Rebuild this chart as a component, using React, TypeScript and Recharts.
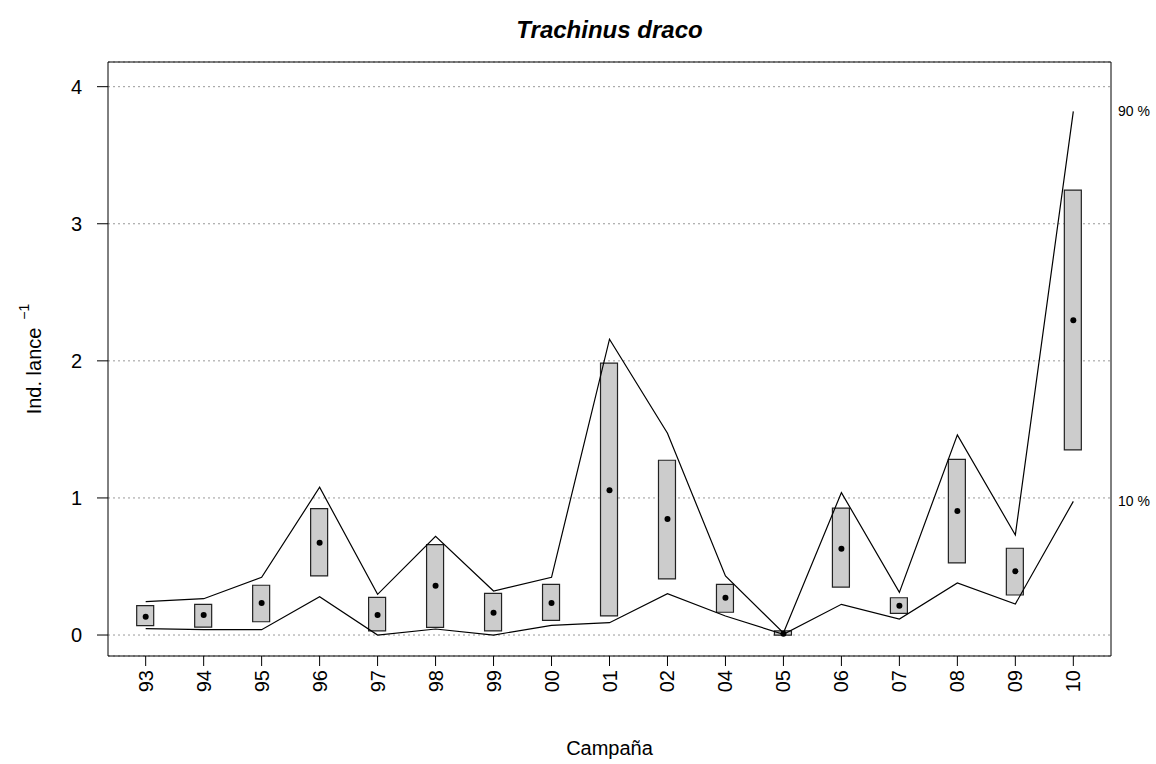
import React from 'react';
import {
  ComposedChart,
  Bar,
  Line,
  XAxis,
  YAxis,
  CartesianGrid,
  ReferenceArea,
} from 'recharts';

const FONT = '"Liberation Sans", Arial, Helvetica, sans-serif';

// campañas
const campanas = ['93', '94', '95', '96', '97', '98', '99', '00', '01', '02', '04', '05', '06', '07', '08', '09', '10'];

// box limits (low / high), median point, 10 % and 90 % lines
const boxLo = [0.068, 0.058, 0.097, 0.431, 0.031, 0.056, 0.031, 0.107, 0.139, 0.409, 0.166, 0.0, 0.35, 0.158, 0.526, 0.292, 1.35];
const boxHi = [0.214, 0.224, 0.363, 0.922, 0.275, 0.66, 0.304, 0.37, 1.983, 1.275, 0.37, 0.031, 0.925, 0.272, 1.282, 0.633, 3.246];
const med = [0.133, 0.146, 0.234, 0.674, 0.146, 0.36, 0.163, 0.234, 1.056, 0.847, 0.272, 0.01, 0.63, 0.214, 0.905, 0.465, 2.297];
const p90 = [0.243, 0.265, 0.421, 1.078, 0.297, 0.72, 0.321, 0.421, 2.158, 1.472, 0.431, 0.015, 1.039, 0.311, 1.46, 0.73, 3.82];
const p10 = [0.046, 0.039, 0.039, 0.28, 0.0, 0.044, 0.0, 0.071, 0.09, 0.302, 0.139, 0.005, 0.224, 0.117, 0.38, 0.226, 0.975];

const yTicks = [0, 1, 2, 3, 4];
const xTicks = campanas.map((_, i) => i + 1);

const data = campanas.map((c, i) => ({
  idx: i + 1,
  camp: c,
  box: [boxLo[i], boxHi[i]],
  med: med[i],
  p90: p90[i],
  p10: p10[i],
}));

const last = campanas.length - 1;
const X_DOMAIN: [number, number] = [0.35, 17.65];
const Y_DOMAIN: [number, number] = [-0.153, 4.18];

function XTick({ x, y, payload }: any) {
  return (
    <text
      x={x}
      y={y}
      transform={`rotate(-90 ${x} ${y})`}
      textAnchor="end"
      dominantBaseline="central"
      fontSize={20}
      fontFamily={FONT}
      fill="#000"
    >
      {campanas[payload.value - 1]}
    </text>
  );
}

function YLabel({ viewBox }: any) {
  const cx = viewBox.x - 14;
  const cy = viewBox.y + viewBox.height / 2;
  return (
    <text
      x={cx}
      y={cy}
      transform={`rotate(-90 ${cx} ${cy})`}
      textAnchor="middle"
      dominantBaseline="central"
      fontSize={20}
      fontFamily={FONT}
      fill="#000"
    >
      Ind. lance
      <tspan dx={8} dy={-10} fontSize={14}>
        −1
      </tspan>
    </text>
  );
}

function XLabel({ viewBox }: any) {
  return (
    <text
      x={viewBox.x + viewBox.width / 2}
      y={viewBox.y + 92}
      textAnchor="middle"
      dominantBaseline="central"
      fontSize={20}
      fontFamily={FONT}
      fill="#000"
    >
      Campaña
    </text>
  );
}

export default function App() {
  return (
    <div style={{ position: 'absolute', left: 0, top: 0, width: 1156, height: 764, background: '#fff' }}>
      <div
        style={{
          position: 'absolute',
          left: 108,
          top: 17,
          width: 1003,
          textAlign: 'center',
          fontFamily: FONT,
          fontSize: 24,
          lineHeight: '26px',
          fontWeight: 'bold',
          fontStyle: 'italic',
        }}
      >
        Trachinus draco
      </div>
      <ComposedChart
        width={1156}
        height={764}
        data={data}
        margin={{ top: 62, right: 0, bottom: 48, left: 48 }}
      >
        <CartesianGrid
          yAxisId="l"
          horizontal
          vertical={false}
          stroke="#999"
          strokeDasharray="2 3"
        />
        <XAxis
          dataKey="idx"
          type="number"
          domain={X_DOMAIN}
          allowDataOverflow
          ticks={xTicks}
          interval={0}
          height={60}
          tickSize={10}
          tickMargin={4}
          axisLine={false}
          tickLine={{ stroke: '#000' }}
          tick={<XTick />}
          label={<XLabel />}
        />
        <YAxis
          yAxisId="l"
          type="number"
          domain={Y_DOMAIN}
          allowDataOverflow
          ticks={yTicks}
          interval={0}
          width={60}
          tickSize={11}
          tickMargin={15}
          axisLine={false}
          tickLine={{ stroke: '#000' }}
          tick={{ fontSize: 20, fill: '#000', fontFamily: FONT }}
          label={<YLabel />}
        />
        <YAxis
          yAxisId="r"
          orientation="right"
          type="number"
          domain={Y_DOMAIN}
          allowDataOverflow
          ticks={[p90[last], p10[last]]}
          interval={0}
          width={45}
          tickSize={0}
          tickMargin={7}
          axisLine={false}
          tickLine={false}
          tick={{ fontSize: 14, fill: '#000', fontFamily: FONT, textAnchor: 'start' }}
          tickFormatter={(v: number) => (v === p90[last] ? '90 %' : '10 %')}
        />
        <Bar
          yAxisId="l"
          dataKey="box"
          barSize={17}
          fill="#cccccc"
          stroke="#222"
          strokeWidth={1.2}
          isAnimationActive={false}
        />
        <Line
          yAxisId="l"
          type="linear"
          dataKey="p90"
          stroke="#000"
          strokeWidth={1.2}
          dot={false}
          activeDot={false}
          isAnimationActive={false}
        />
        <Line
          yAxisId="l"
          type="linear"
          dataKey="p10"
          stroke="#000"
          strokeWidth={1.2}
          dot={false}
          activeDot={false}
          isAnimationActive={false}
        />
        <Line
          yAxisId="l"
          type="linear"
          dataKey="med"
          stroke="none"
          dot={{ r: 3, fill: '#000', stroke: 'none' }}
          activeDot={false}
          isAnimationActive={false}
        />
        <ReferenceArea
          yAxisId="l"
          x1={X_DOMAIN[0]}
          x2={X_DOMAIN[1]}
          y1={Y_DOMAIN[0]}
          y2={Y_DOMAIN[1]}
          fill="none"
          stroke="#000"
          strokeWidth={1}
          ifOverflow="visible"
        />
      </ComposedChart>
    </div>
  );
}
